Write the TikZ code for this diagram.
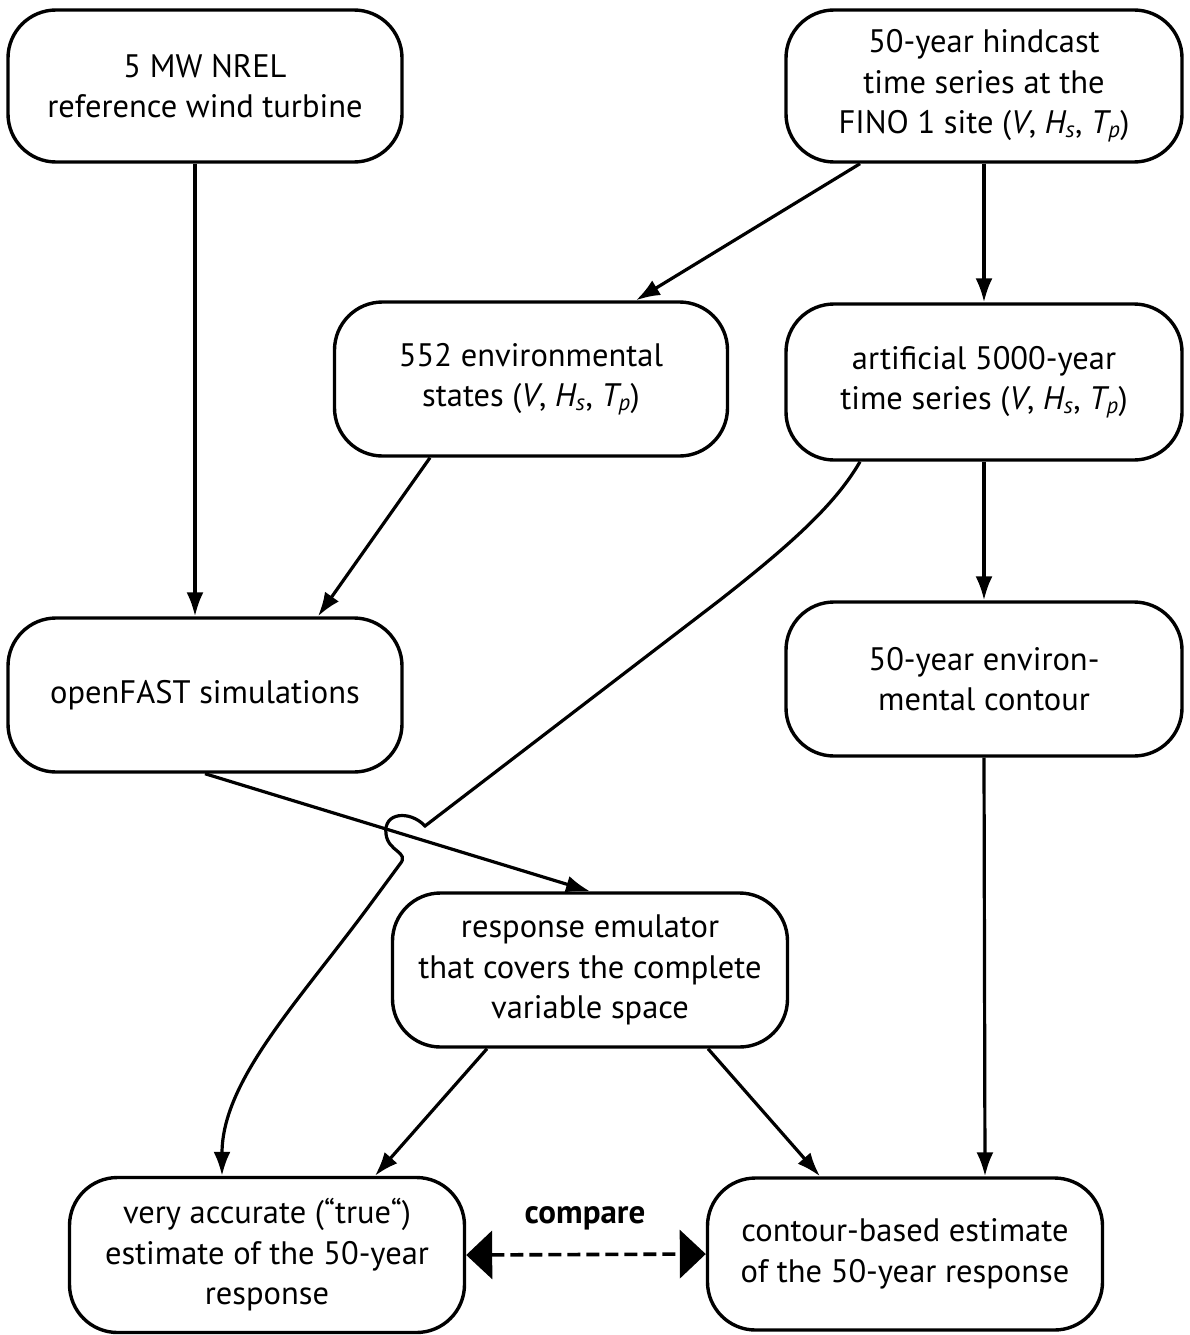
\documentclass[tikz,border=0pt]{standalone}
\usepackage{fontspec}
\setmainfont{PT Sans}
\usetikzlibrary{arrows.meta,calc}
\newcommand{\vht}{(\textit{V}, \textit{H\textsubscript{s}}, \textit{T\textsubscript{p}})}
\begin{document}
\begin{tikzpicture}[x=1pt,y=-1pt,
  box/.style={draw,line width=3.4pt,rounded corners=48pt,minimum width=#1,align=center,
    font=\fontsize{32.5}{40.5}\selectfont,inner sep=0pt},
  box/.default=394pt,
  conn/.style={line width=3.2pt,-{Latex[length=24pt,width=17pt]}},
  cmp/.style={line width=3.6pt,dash pattern=on 13pt off 6pt,{Triangle[length=26pt,width=48pt]}-{Triangle[length=26pt,width=48pt]}}]
\useasboundingbox (0,0) rectangle (1189,1335);
\node[box,minimum height=152pt] (n1) at (205,86) {5 MW NREL\\reference wind turbine};
\node[box=396pt,minimum height=152pt] (n2) at (984,86) {50-year hindcast\\time series at the\\FINO 1 site \vht};
\node[box=393pt,minimum height=154pt] (n3) at (531,379) {552 environmental\\states \vht};
\node[box=396pt,minimum height=156pt] (n4) at (984,382) {artificial 5000-year\\time series \vht};
\node[box,minimum height=154pt] (n5) at (205,695) {openFAST simulations};
\node[box=396pt,minimum height=154pt] (n6) at (984,679) {50-year environ-\\mental contour};
\node[box=395pt,minimum height=154pt] (n7) at (590,970) {response emulator\\that covers the complete\\variable space};
\node[box=395pt,minimum height=155pt] (n8) at (267,1255) {very accurate (“true“)\\estimate of the 50-year\\response};
\node[box=395pt,minimum height=152pt] (n9) at (905,1254) {contour-based estimate\\of the 50-year response};
\draw[conn] ([xshift=-10pt]n1.south) -- ([xshift=-10pt]n5.north);
\draw[conn] ([xshift=-124pt]n2.south) -- ([xshift=105pt]n3.north);
\draw[conn] (n2.south) -- (n4.north);
\draw[conn] ([xshift=-101pt]n3.south) -- ([xshift=113pt]n5.north);
\draw[conn] (n4.south) -- (n6.north);
\draw[conn] (n5.south) -- (n7.north);
\draw[conn] ([xshift=-103pt]n7.south) -- ([xshift=108pt]n8.north);
\draw[conn] ([xshift=118pt]n7.south) -- ([xshift=-85pt]n9.north);
\draw[conn] (n6.south) -- ([xshift=80pt]n9.north);
\draw[conn] ([xshift=-124pt]n4.south) .. controls (835,505) and (790,545) .. (720,600)
  -- (425,826) .. controls (410,810) and (383,812) .. (386,834)
  .. controls (388,852) and (410,852) .. (400,864)
  -- (372,902) .. controls (300,1000) and (222,1080) .. ([xshift=-45pt]n8.north);
\draw[cmp] (n8.east) -- (n9.west);
\node[font=\fontsize{33}{38}\selectfont\bfseries] (cmpl) at (585,1218) {compare};
\end{tikzpicture}
\end{document}
